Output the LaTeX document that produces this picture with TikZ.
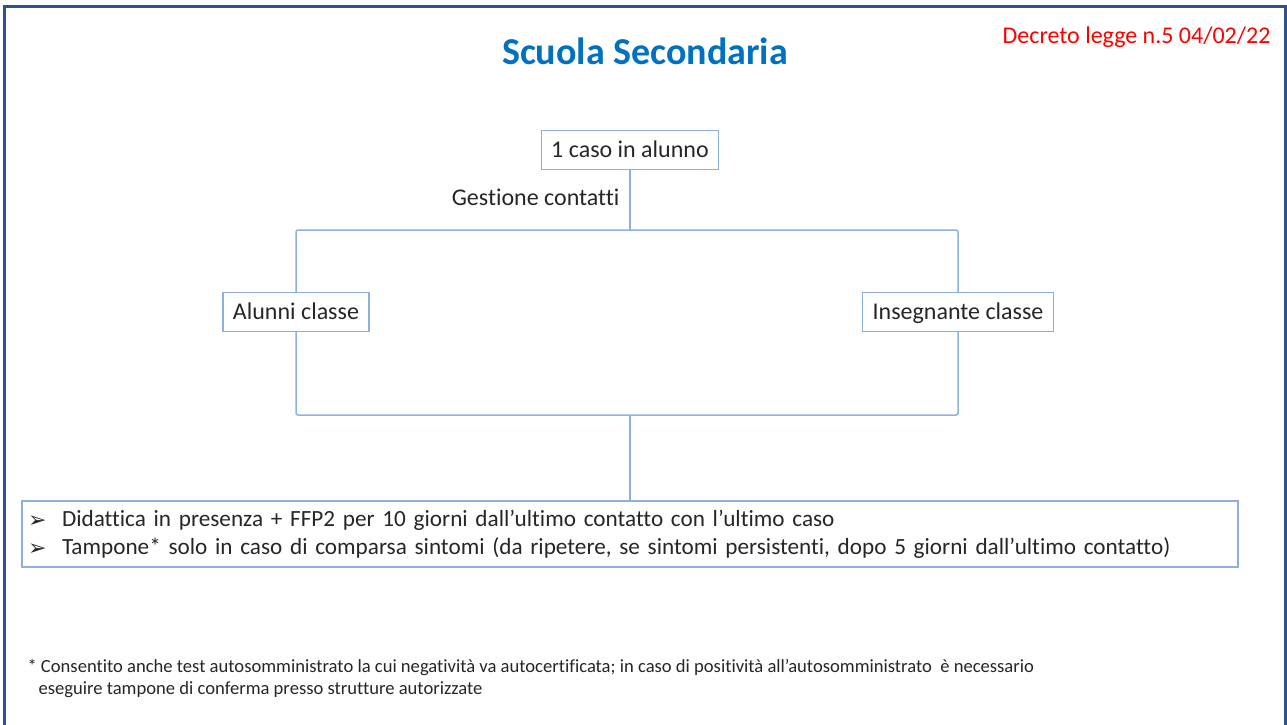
\documentclass[tikz,border=0pt]{standalone}
\usepackage{fontspec}
\setmainfont{Carlito}[Ligatures=NoCommon]
\newfontfamily\bulletfont{DejaVu Sans}
\usepackage{tikz}

\definecolor{linkblue}{RGB}{143,176,222}
\definecolor{titleblue}{RGB}{0,112,192}
\definecolor{frameblue}{RGB}{47,82,143}
\definecolor{inkgray}{RGB}{38,38,38}
\newcommand{\arrowbullet}{\makebox[34pt][l]{\bulletfont\fontsize{22}{26}\selectfont\raisebox{-1pt}{➢}}}

\begin{document}
\begin{tikzpicture}[
		x=1pt, y=-1pt,
		box/.style={rectangle, draw=linkblue, line width=1.2pt, text=inkgray, font=\fontsize{24}{28}\selectfont, inner xsep=10pt, minimum height=39pt, text height=15.5pt, text depth=0pt},
		link/.style={draw=linkblue, line width=1.5pt, rounded corners=2pt},
		note/.style={text=inkgray, align=left}
	]
		\useasboundingbox (0,0) rectangle (1287,725);
		% Frame
		\draw[frameblue, line width=3pt] (4,725) -- (4,7) -- (1285,7) -- (1285,725);
		
		% Titles
		\node[font=\bfseries\fontsize{38}{44}\selectfont, text=titleblue] (title) at (645,51) {Scuola Secondaria};
		\node[font=\fontsize{24}{28}\selectfont, text=red, anchor=east] (decreto) at (1274,37) {Decreto legge n.5 04/02/22};
		
		% Boxes
		\node[box] (caso) at (630,150) {1 caso in alunno};
		\node[note, font=\fontsize{24}{28}\selectfont, anchor=east] (gestione) at (623,197) {Gestione contatti};
		\node[box] (alunni) at (296,312) {Alunni classe};
		\node[box] (insegnante) at (958,312) {Insegnante classe};
		\node[box, minimum width=1216pt, minimum height=66pt, inner xsep=6pt, text width=1204pt, text height=, text depth=, align=left, font=\fontsize{23.2}{28}\selectfont] (misure) at (630,534)
			{\arrowbullet Didattica in presenza + FFP2 per 10 giorni dall’ultimo contatto con l’ultimo caso\\
			 \arrowbullet Tampone* solo in caso di comparsa sintomi (da ripetere, se sintomi persistenti, dopo 5 giorni dall’ultimo contatto)};
		
		% Connectors
		\coordinate (split) at (630,230);
		\coordinate (merge) at (630,415);
		\draw[link] (caso) -- (split);
		\draw[link] (alunni) |- (split) -| (insegnante);
		\draw[link] (alunni) |- (merge) -| (insegnante);
		\draw[link] (merge) -- (misure);
		
		% Footnote
		\node[note, font=\fontsize{18.6}{22}\selectfont, anchor=west] (nota) at (24,678)
			{* Consentito anche test autosomministrato la cui negatività va autocertificata; in caso di positività all’autosomministrato\ \ è necessario\\
			 \hspace*{11pt}eseguire tampone di conferma presso strutture autorizzate};
	\end{tikzpicture}
\end{document}
